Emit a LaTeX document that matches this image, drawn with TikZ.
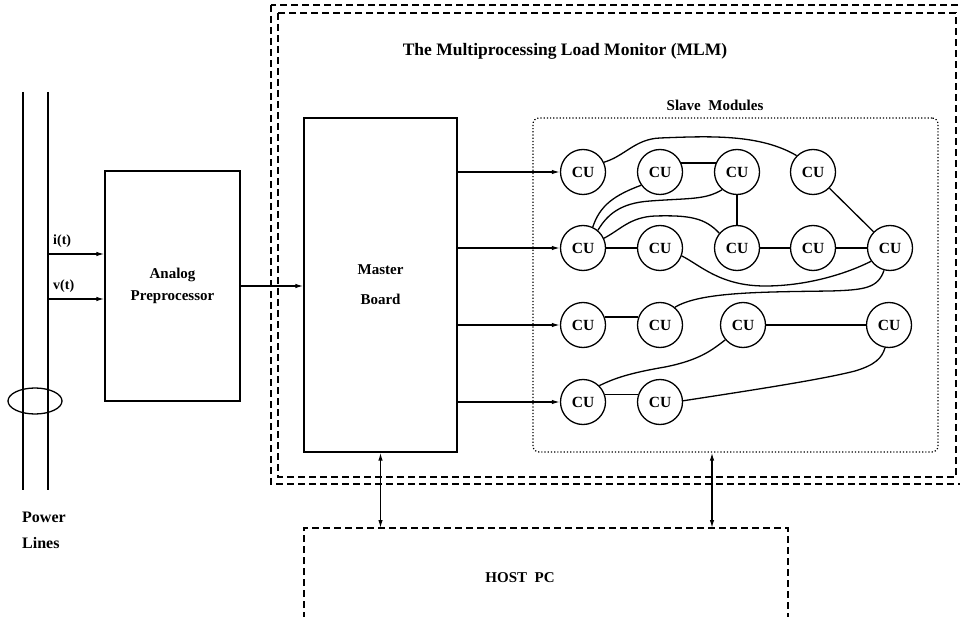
\documentclass[tikz,border=0pt]{standalone}
\usepackage{fontspec}
\setmainfont{Liberation Serif}
\usetikzlibrary{arrows.meta}

\tikzset{
  lw/.style={line width=1.3pt},
  blk/.style={draw, lw, rectangle, inner sep=0pt, align=center},
  cu/.style={circle, draw, lw, minimum size=45pt, inner sep=0pt,
    font=\bfseries\fontsize{15.5}{15.5}\selectfont},
  lbl/.style={inner sep=0pt, font=\bfseries\fontsize{14}{14}\selectfont},
  biglbl/.style={inner sep=0pt, font=\bfseries\fontsize{16}{16}\selectfont},
  tip/.tip={Latex[length=8pt,width=4.5pt]},
  arr/.style={lw, -tip},
  biarr/.style={lw, tip-tip},
  link/.style={lw},
  dashbox/.style={line width=1.2pt, dash pattern=on 7pt off 4pt},
  dotbox/.style={draw, line width=1.2pt, dash pattern=on 1.2pt off 2pt,
    rounded corners=6pt, inner sep=0pt},
}

\begin{document}
\begin{tikzpicture}[x=1pt, y=-1pt]
\useasboundingbox (0,0) rectangle (960,617);
\clip (0,0) rectangle (960,617);

% MLM enclosure: double dashed frame
\draw[dashbox] (271,5) rectangle (966,484);
\draw[dashbox] (278,13) rectangle (956,477);
\node[lbl, font=\bfseries\fontsize{17.5}{17.5}\selectfont] (title) at (565,51)
  {The Multiprocessing Load Monitor (MLM)};

% power lines with current clamp
\coordinate (pl1t) at (23,92);  \coordinate (pl1b) at (23,490);
\coordinate (pl2t) at (48,92);  \coordinate (pl2b) at (48,490);
\draw[lw] (pl1t) -- (pl1b);
\draw[lw] (pl2t) -- (pl2b);
\draw[lw] (35,401) ellipse (27 and 13);
\node[biglbl, anchor=west] (pw) at (22,517) {Power};
\node[biglbl, anchor=west] (ln) at (22,543) {Lines};

% analog front end
\node[blk, biglbl, font=\bfseries\fontsize{15}{15}\selectfont,
  minimum width=135pt, minimum height=230pt] (ap) at (172.5,286)
  {Analog\\[7pt]Preprocessor};
\coordinate (pi) at (48,254);
\coordinate (pv) at (48,299);
\draw[arr] (pi) -- (ap.west |- pi);
\draw[arr] (pv) -- (ap.west |- pv);
\node[lbl, anchor=south west] (it) at (53,248) {i(t)};
\node[lbl, anchor=south west] (vt) at (53,293) {v(t)};

% master board
\node[blk, lbl, font=\bfseries\fontsize{15}{15}\selectfont,
  minimum width=153pt, minimum height=334pt] (mb) at (380.5,285)
  {Master\\[15pt]Board};
\draw[arr] (ap.east) -- (mb.west |- ap.east);

% slave modules
\node[dotbox, minimum width=405pt, minimum height=334pt] (sm) at (735.5,285) {};
\node[lbl, font=\bfseries\fontsize{15}{15}\selectfont] (smt) at (715,105) {Slave\ \ Modules};

\node[cu] (a1) at (583,172) {CU};
\node[cu] (b1) at (660,172) {CU};
\node[cu] (c1) at (737,172) {CU};
\node[cu] (d1) at (813,172) {CU};
\node[cu] (a2) at (583,248) {CU};
\node[cu] (b2) at (660,248) {CU};
\node[cu] (c2) at (737,248) {CU};
\node[cu] (d2) at (813,248) {CU};
\node[cu] (e2) at (890,248) {CU};
\node[cu] (a3) at (583,325) {CU};
\node[cu] (b3) at (660,325) {CU};
\node[cu] (c3) at (743,325) {CU};
\node[cu] (d3) at (889,325) {CU};
\node[cu] (a4) at (583,402) {CU};
\node[cu] (b4) at (660,402) {CU};

% master board feeds the first unit of each row
\draw[arr] (mb.east |- a1) -- (a1);
\draw[arr] (mb.east |- a2) -- (a2);
\draw[arr] (mb.east |- a3) -- (a3);
\draw[arr] (mb.east |- a4) -- (a4);

% interconnections between computing units
\draw[link] (a1.25) .. controls (625,156) and (635,139) .. (660,138)
  .. controls (710,136) and (760,134) .. (d1.135);
\draw[link] (b1.23) -- (c1.157);
\draw[link] (b1.215) .. controls (615,195) and (600,205) .. (a2.65);
\draw[link] (c1.230) .. controls (705,200) and (690,198) .. (650,201)
  .. controls (620,203) and (607,215) .. (a2.50);
\draw[link] (c1) -- (c2);
\draw[link] (a2.25) .. controls (620,230) and (630,217) .. (655,216)
  .. controls (690,215) and (705,218) .. (c2.140);
\draw[link] (a2) -- (b2);
\draw[link] (b2.340) .. controls (700,265) and (720,286) .. (765,286)
  .. controls (810,286) and (850,272) .. (e2.215);
\draw[link] (c2) -- (d2);
\draw[link] (d2) -- (e2);
\draw[link] (d1) -- (e2);
\draw[link] (e2.255) .. controls (878,288) and (865,290) .. (830,291)
  .. controls (760,292) and (700,292) .. (b3.50);
\draw[link] (a3.20) -- (b3.160);
\draw[link] (c3) -- (d3);
\draw[link] (c3.220) .. controls (712,350) and (700,360) .. (665,367)
  .. controls (630,373) and (615,378) .. (a4.45);
\draw[link] (a4.18) -- (b4.162);
\draw[link] (b4.3) .. controls (740,392) and (820,380) .. (855,371)
  .. controls (875,365) and (882,358) .. (d3.260);

% host PC, open towards the bottom edge
\coordinate (hl) at (304,630);
\coordinate (htl) at (304,528);
\coordinate (htr) at (788,528);
\coordinate (hr) at (788,630);
\draw[dashbox] (hl) -- (htl) -- (htr) -- (hr);
\node[lbl, font=\bfseries\fontsize{15}{15}\selectfont] (host) at (520,578) {HOST\ \ PC};
\draw[biarr] (mb.south) -- (mb.south |- htl);
\coordinate (hs) at (712,528);
\draw[biarr] (hs |- sm.south) -- (hs);
\end{tikzpicture}
\end{document}
